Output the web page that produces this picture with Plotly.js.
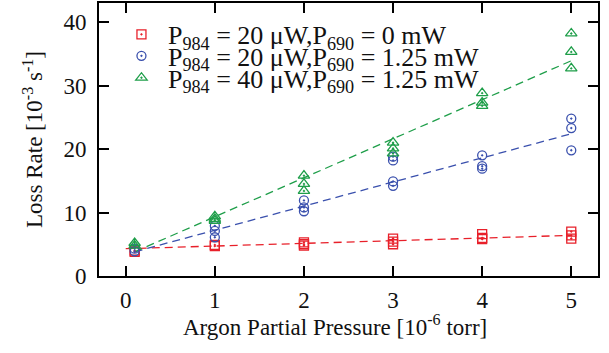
<!DOCTYPE html>
<html>
<head>
<meta charset="utf-8">
<script src="https://cdn.plot.ly/plotly-3.0.1.min.js"></script>
<style>html,body{margin:0;padding:0;background:#fff;}#chart{width:609px;height:353px;}</style>
</head>
<body>
<div id="chart"></div>
<script>
// Data
const seriesNames = [
  '\u2005P<sub>984</sub> = 20 \u03bcW,P<sub>690</sub> = 0 mW',
  '\u2005P<sub>984</sub> = 20 \u03bcW,P<sub>690</sub> = 1.25 mW',
  '\u2005P<sub>984</sub> = 40 \u03bcW,P<sub>690</sub> = 1.25 mW'
];
const redX   = [0.1, 0.1, 1, 1, 2, 2, 2, 3, 3, 3, 4, 4, 4, 5, 5, 5];
const redY   = [4.0, 3.8, 4.9, 4.7, 5.3, 5.0, 4.8, 5.9, 5.4, 5.0, 6.6, 6.0, 5.8, 7.0, 6.4, 5.9];
const blueX  = [0.1, 0.1, 1, 1, 1, 2, 2, 2, 3, 3, 3, 3, 4, 4, 4, 5, 5, 5];
const blueY  = [4.3, 3.9, 7.9, 7.1, 6.1, 11.9, 10.8, 10.2, 18.8, 18.2, 14.9, 14.2, 19.0, 17.3, 16.9, 24.8, 23.3, 19.8];
const greenX = [0.1, 0.1, 1, 1, 1, 2, 2, 2, 3, 3, 3, 4, 4, 4, 5, 5, 5];
const greenY = [5.2, 4.8, 9.4, 9.0, 8.7, 15.8, 14.5, 13.4, 21.0, 20.1, 19.3, 28.8, 27.3, 26.8, 38.2, 35.3, 32.7];
// Fitted dashed lines (end points)
const redFitX = [0, 5],   redFitY = [4.3, 6.4];
const blueFitX = [0.1, 5], blueFitY = [3.8, 22.4];
const greenFitX = [0.1, 5], greenFitY = [3.8, 33.9];
const xTicks = [0, 1, 2, 3, 4, 5];
const yTicks = [0, 10, 20, 30, 40];
const xTitle = 'Argon Partial Pressure [10<sup>-6</sup> torr]';
const yTitle = 'Loss Rate [10<sup>-3</sup> s<sup>-1</sup>]';

const colors = ['#e8202a', '#3a50ad', '#1e9e49'];
const symbols = ['square-open-dot', 'circle-open-dot', 'triangle-up-open-dot'];
const pts = [[redX, redY], [blueX, blueY], [greenX, greenY]];
const fits = [[redFitX, redFitY], [blueFitX, blueFitY], [greenFitX, greenFitY]];
const legendIds = ['legend', 'legend2', 'legend3'];

const traces = [];
for (let i = 0; i < 3; i++) {
  traces.push({
    x: fits[i][0], y: fits[i][1], mode: 'lines', showlegend: false, hoverinfo: 'skip',
    line: {color: colors[i], width: 1.3, dash: '8px,5px'}
  });
}
for (let i = 0; i < 3; i++) {
  traces.push({
    x: pts[i][0], y: pts[i][1], mode: 'markers', name: seriesNames[i], legend: legendIds[i],
    marker: {symbol: symbols[i], size: i === 2 ? 10 : 9, color: colors[i], line: {width: 1.3, color: colors[i]}}
  });
}

const fam = '"Liberation Serif", "Times New Roman", serif';
const font = {family: fam, size: 23, color: '#111'};
const axisCommon = {
  showgrid: false, zeroline: false, showline: true, linecolor: '#000', linewidth: 2,
  mirror: 'ticks', ticks: 'inside', ticklen: 10, tickwidth: 2, tickcolor: '#000',
  tickfont: {family: fam, size: 23, color: '#111'}
};
function leg(y) {
  return {x: 0.045, y: y, xanchor: 'left', yanchor: 'middle', bgcolor: 'rgba(0,0,0,0)',
          font: {family: fam, size: 26, color: '#111'}, itemwidth: 30, borderwidth: 0};
}
const layout = {
  width: 609, height: 353,
  margin: {l: 99, r: 11, t: 3, b: 77},
  paper_bgcolor: '#fff', plot_bgcolor: '#fff',
  font: font,
  showlegend: true,
  legend: leg(0.885), legend2: leg(0.806), legend3: leg(0.726),
  xaxis: Object.assign({}, axisCommon, {
    range: [-0.3, 5.3], tickvals: xTicks, ticktext: xTicks.map(String), ticklabelstandoff: 2
  }),
  yaxis: Object.assign({}, axisCommon, {
    range: [0, 43], tickvals: yTicks, ticktext: yTicks.map(String), ticklabelstandoff: 6,
    title: {text: yTitle, font: {family: fam, size: 23, color: '#111'}, standoff: 14}
  }),
  annotations: [{
    text: xTitle, xref: 'paper', yref: 'paper', x: 0.473, y: -0.18,
    xanchor: 'center', yanchor: 'middle', showarrow: false,
    font: {family: fam, size: 23, color: '#111'}
  }]
};
Plotly.newPlot('chart', traces, layout, {displayModeBar: false, staticPlot: true});
</script>
</body>
</html>
